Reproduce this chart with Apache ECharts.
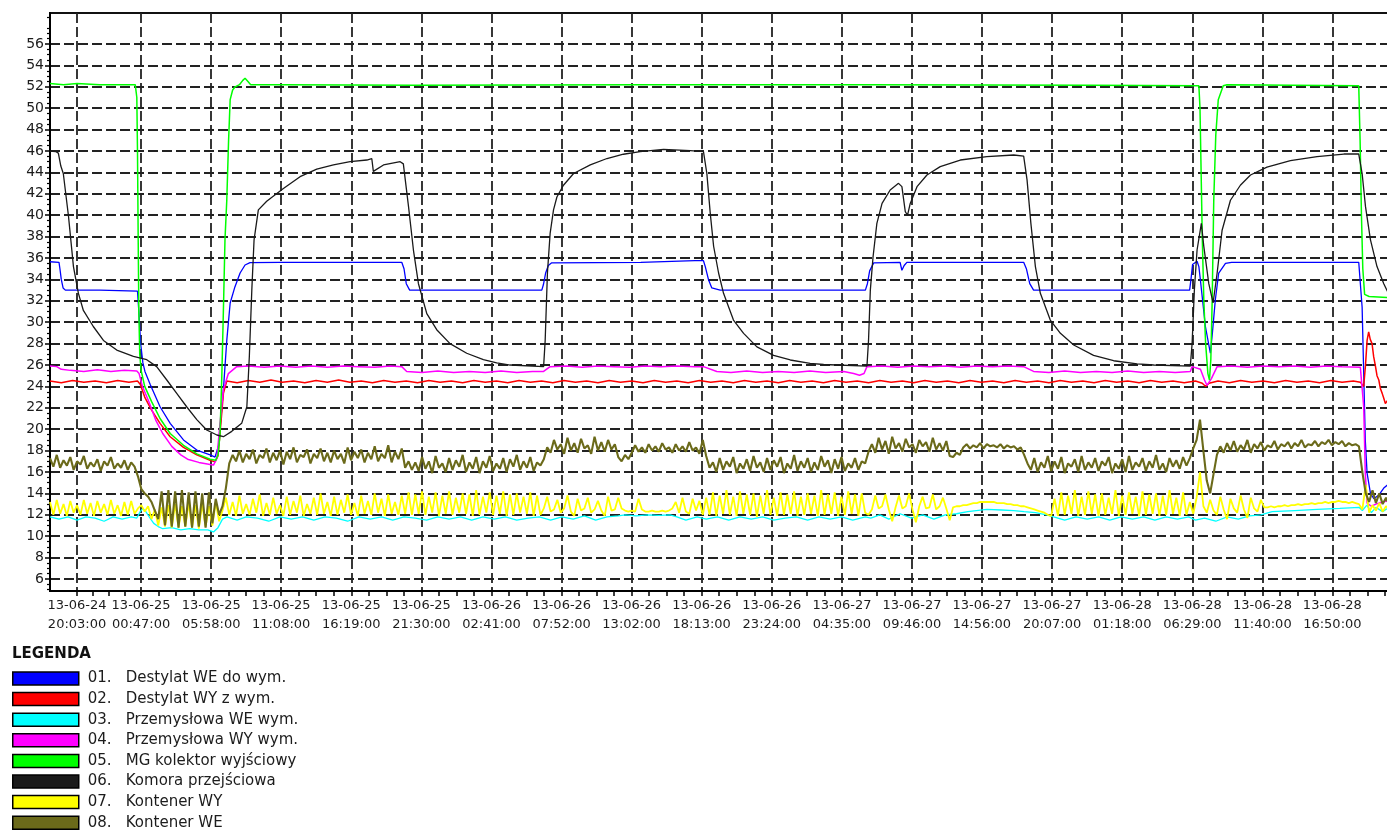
<!DOCTYPE html>
<html>
<head>
<meta charset="utf-8">
<title>Temperatury</title>
<script src="https://cdn.jsdelivr.net/npm/echarts@6/dist/echarts.min.js"></script>
<style>
    html, body { margin: 0; padding: 0; background: #fff; }
    #chart { width: 1387px; height: 837px; }
</style>
</head>
<body>
<div id="chart"></div>
<script>
// x values are minutes counted from 13-06-24 20:03:00
const tickMinutes = [0, 284, 595, 905, 1216, 1527, 1838, 2149, 2459, 2770, 3081, 3392, 3703, 4013, 4324, 4635, 4946, 5257, 5567];
const tickLabels = [
    '13-06-24\n20:03:00', '13-06-25\n00:47:00', '13-06-25\n05:58:00', '13-06-25\n11:08:00',
    '13-06-25\n16:19:00', '13-06-25\n21:30:00', '13-06-26\n02:41:00', '13-06-26\n07:52:00',
    '13-06-26\n13:02:00', '13-06-26\n18:13:00', '13-06-26\n23:24:00', '13-06-27\n04:35:00',
    '13-06-27\n09:46:00', '13-06-27\n14:56:00', '13-06-27\n20:07:00', '13-06-28\n01:18:00',
    '13-06-28\n06:29:00', '13-06-28\n11:40:00', '13-06-28\n16:50:00'
];
const yTicks = [6, 8, 10, 12, 14, 16, 18, 20, 22, 24, 26, 28, 30, 32, 34, 36, 38, 40, 42, 44, 46, 48, 50, 52, 54, 56];

const seriesCodes = ['01.', '02.', '03.', '04.', '05.', '06.', '07.', '08.'];
const seriesNames = [
    'Destylat WE do wym.', 'Destylat WY z wym.', 'Przemysłowa WE wym.', 'Przemysłowa WY wym.',
    'MG kolektor wyjściowy', 'Komora przejściowa', 'Kontener WY', 'Kontener WE'
];
const seriesColors = ['#0000ff', '#ff0000', '#00ffff', '#ff00ff', '#00ff00', '#1a1a1a', '#ffff00', '#6b6a1a'];
const seriesWidths = [1.3, 1.5, 1.3, 1.5, 1.5, 1.3, 1.8, 2.1];

// 01 - [minute, value]
const destylatWE = [
    [-120, 35.65], [-80, 35.6], [-76, 35.0], [-70, 34.0], [-62, 33.2], [-52, 33.0], [100, 33.0], [268, 32.9],
    [274, 31.0], [282, 28.0], [292, 26.2], [301, 25.4], [324, 24.2], [368, 22.1], [413, 20.55], [472, 19.0],
    [531, 18.05], [590, 17.6], [612, 17.4], [628, 18.5], [640, 21.5], [649, 23.7], [664, 28.3], [679, 31.8],
    [700, 33.3], [723, 34.6], [745, 35.35], [767, 35.57], [900, 35.6], [1440, 35.6], [1450, 35.0], [1460, 33.6],
    [1475, 33.0], [2061, 33.0], [2068, 33.5], [2078, 34.6], [2090, 35.3], [2105, 35.55], [2500, 35.6], [2740, 35.75],
    [2778, 35.75], [2786, 35.2], [2800, 34.0], [2815, 33.2], [2852, 33.0], [3496, 33.0], [3505, 33.6], [3515, 34.8],
    [3533, 35.55], [3650, 35.6], [3658, 34.85], [3668, 35.3], [3680, 35.6], [4198, 35.6], [4210, 35.0], [4225, 33.6],
    [4242, 33.0], [4934, 33.0], [4940, 34.0], [4947, 35.4], [4967, 35.7], [4975, 35.2], [4982, 33.9], [5004, 29.6],
    [5026, 27.1], [5035, 29.0], [5048, 32.1], [5063, 34.6], [5093, 35.5], [5120, 35.6], [5684, 35.6], [5699, 31.4],
    [5706, 25.2], [5713, 19.0], [5721, 15.9], [5736, 14.0], [5751, 13.5], [5773, 13.85], [5795, 14.5], [5812, 14.8],
    [5830, 15.0]
];

// 02
const destylatWY = [
    [-120, 24.5], [-70, 24.35], [-20, 24.55], [30, 24.4], [80, 24.5], [130, 24.35], [180, 24.55], [230, 24.4], [268, 24.5],
    [280, 24.2], [300, 23.0], [330, 21.8], [368, 20.55], [413, 19.3], [472, 18.3], [531, 17.6], [590, 17.1], [612, 16.95],
    [625, 17.5], [634, 19.6], [649, 23.35], [664, 24.5], [710, 24.35], [760, 24.55], [810, 24.4], [860, 24.6], [910, 24.4],
    [960, 24.5], [1010, 24.35], [1060, 24.55], [1110, 24.4], [1160, 24.6], [1210, 24.4], [1260, 24.5], [1310, 24.35],
    [1360, 24.55], [1410, 24.4], [1460, 24.5], [1510, 24.35], [1560, 24.55], [1610, 24.4], [1660, 24.5], [1710, 24.35],
    [1760, 24.55], [1810, 24.4], [1860, 24.5], [1910, 24.35], [1960, 24.55], [2010, 24.4], [2060, 24.5], [2110, 24.35],
    [2160, 24.55], [2210, 24.4], [2260, 24.5], [2310, 24.35], [2360, 24.55], [2410, 24.4], [2460, 24.5], [2510, 24.35],
    [2560, 24.55], [2610, 24.4], [2660, 24.5], [2710, 24.35], [2760, 24.55], [2810, 24.4], [2860, 24.5], [2910, 24.35],
    [2960, 24.55], [3010, 24.4], [3060, 24.5], [3110, 24.35], [3160, 24.55], [3210, 24.4], [3260, 24.5], [3310, 24.35],
    [3360, 24.55], [3410, 24.4], [3460, 24.5], [3510, 24.35], [3560, 24.55], [3610, 24.4], [3660, 24.5], [3710, 24.35],
    [3760, 24.55], [3810, 24.4], [3860, 24.5], [3910, 24.35], [3960, 24.55], [4010, 24.4], [4060, 24.5], [4110, 24.35],
    [4160, 24.55], [4210, 24.4], [4260, 24.5], [4310, 24.35], [4360, 24.55], [4410, 24.4], [4460, 24.5], [4510, 24.35],
    [4560, 24.55], [4610, 24.4], [4660, 24.5], [4710, 24.35], [4760, 24.55], [4810, 24.4], [4860, 24.5], [4910, 24.35],
    [4960, 24.5], [4990, 24.3], [5005, 24.0], [5020, 24.3], [5060, 24.5], [5110, 24.35], [5160, 24.55], [5210, 24.4],
    [5260, 24.5], [5310, 24.35], [5360, 24.55], [5410, 24.4], [5460, 24.5], [5510, 24.35], [5560, 24.55], [5610, 24.4],
    [5660, 24.5], [5691, 24.4], [5706, 24.0], [5714, 26.0], [5721, 28.3], [5728, 29.1], [5735, 28.4], [5743, 28.0],
    [5750, 26.8], [5758, 25.9], [5765, 25.0], [5773, 24.6], [5780, 23.8], [5788, 23.35], [5795, 22.9], [5802, 22.4],
    [5812, 22.7], [5830, 22.5]
];

// 03
const przemWE = [
    [-120, 11.8], [-80, 11.6], [-40, 11.8], [0, 11.5], [40, 11.8], [80, 11.7], [120, 11.4], [160, 11.8], [200, 11.6],
    [240, 11.8], [265, 11.7], [280, 12.3], [292, 12.6], [305, 12.3], [320, 11.8], [340, 11.2], [360, 10.9], [380, 10.7],
    [420, 10.8], [460, 10.6], [500, 10.7], [540, 10.6], [580, 10.6], [605, 10.4], [625, 10.8], [645, 11.6], [665, 11.8],
    [710, 11.5], [750, 11.8], [800, 11.7], [850, 11.4], [900, 11.8], [950, 11.6], [1000, 11.8], [1050, 11.5], [1100, 11.8],
    [1150, 11.7], [1200, 11.4], [1250, 11.8], [1300, 11.6], [1350, 11.8], [1400, 11.5], [1450, 11.8], [1500, 11.7],
    [1550, 11.5], [1600, 11.8], [1650, 11.6], [1700, 11.8], [1750, 11.5], [1800, 11.8], [1850, 11.6], [1900, 11.8],
    [1950, 11.5], [2000, 11.7], [2050, 11.8], [2100, 11.5], [2150, 11.8], [2200, 11.6], [2250, 11.9], [2300, 11.5],
    [2350, 11.8], [2400, 11.9], [2430, 12.0], [2480, 11.9], [2530, 12.0], [2580, 11.95], [2630, 12.0], [2660, 11.8],
    [2700, 11.5], [2750, 11.8], [2790, 11.6], [2840, 11.8], [2890, 11.5], [2940, 11.8], [2990, 11.6], [3040, 11.8],
    [3090, 11.5], [3140, 11.7], [3190, 11.8], [3240, 11.5], [3290, 11.8], [3340, 11.6], [3390, 11.8], [3440, 11.5],
    [3496, 11.8], [3520, 11.7], [3560, 12.0], [3600, 11.6], [3650, 12.1], [3700, 11.7], [3750, 12.0], [3800, 11.6],
    [3850, 12.0], [3900, 12.1], [3950, 12.3], [4035, 12.5], [4100, 12.45], [4154, 12.4], [4200, 12.3], [4250, 12.2],
    [4300, 12.0], [4331, 11.8], [4380, 11.5], [4430, 11.8], [4480, 11.6], [4530, 11.8], [4580, 11.5], [4630, 11.8],
    [4680, 11.6], [4730, 11.8], [4780, 11.5], [4830, 11.8], [4880, 11.6], [4930, 11.8], [4960, 11.5], [5000, 11.7],
    [5050, 11.4], [5100, 11.8], [5150, 11.6], [5200, 11.9], [5250, 12.0], [5300, 12.3], [5400, 12.4], [5500, 12.5],
    [5600, 12.6], [5685, 12.7], [5700, 12.4], [5720, 12.9], [5740, 12.2], [5760, 12.7], [5790, 12.3], [5812, 12.6],
    [5830, 12.5]
];

// 04
const przemWY = [
    [-120, 25.9], [-90, 25.85], [-70, 25.6], [-30, 25.5], [30, 25.4], [90, 25.55], [150, 25.4], [210, 25.5], [265, 25.45],
    [275, 25.2], [290, 24.0], [320, 22.5], [350, 20.8], [380, 19.6], [420, 18.4], [460, 17.6], [490, 17.2], [540, 16.9],
    [590, 16.7], [605, 16.65], [620, 17.3], [634, 20.55], [649, 23.7], [671, 25.2], [708, 25.85], [760, 25.9], [830, 25.8],
    [900, 25.9], [970, 25.8], [1040, 25.9], [1110, 25.8], [1180, 25.9], [1250, 25.85], [1320, 25.8], [1390, 25.9],
    [1440, 25.85], [1462, 25.4], [1530, 25.3], [1600, 25.45], [1670, 25.3], [1740, 25.4], [1810, 25.3], [1880, 25.45],
    [1950, 25.3], [2020, 25.4], [2069, 25.4], [2098, 25.85], [2170, 25.9], [2240, 25.8], [2310, 25.9], [2380, 25.85],
    [2450, 25.8], [2520, 25.9], [2590, 25.85], [2660, 25.9], [2740, 25.85], [2778, 25.85], [2837, 25.4], [2900, 25.3],
    [2970, 25.45], [3040, 25.3], [3110, 25.4], [3180, 25.3], [3250, 25.45], [3320, 25.3], [3400, 25.4], [3444, 25.2],
    [3470, 25.05], [3490, 25.2], [3503, 25.85], [3570, 25.9], [3640, 25.8], [3710, 25.9], [3780, 25.85], [3850, 25.9],
    [3920, 25.8], [3990, 25.9], [4060, 25.85], [4130, 25.9], [4198, 25.85], [4242, 25.4], [4310, 25.3], [4380, 25.45],
    [4450, 25.3], [4520, 25.4], [4590, 25.3], [4660, 25.45], [4730, 25.3], [4800, 25.4], [4870, 25.3], [4937, 25.4],
    [4945, 25.85], [4982, 25.6], [5000, 24.6], [5011, 24.1], [5030, 24.7], [5056, 25.85], [5120, 25.9], [5190, 25.8],
    [5260, 25.9], [5330, 25.85], [5400, 25.9], [5470, 25.8], [5540, 25.9], [5610, 25.85], [5691, 25.8], [5706, 22.1],
    [5713, 15.9], [5721, 13.1], [5740, 12.8], [5760, 13.0], [5790, 13.2], [5812, 13.3], [5830, 13.2]
];

// 05
const kolektor = [
    [-120, 52.3], [-60, 52.2], [0, 52.3], [100, 52.2], [200, 52.2], [258, 52.2], [265, 51.0], [268, 46.0], [271, 38.0],
    [274, 31.0], [278, 27.0], [284, 25.5], [300, 24.0], [330, 22.6], [368, 21.0], [413, 19.6], [472, 18.5], [531, 17.7],
    [590, 17.2], [615, 17.1], [625, 17.6], [634, 19.5], [642, 25.0], [650, 32.0], [656, 37.7], [664, 41.4], [672, 47.0],
    [679, 50.8], [690, 51.7], [701, 52.0], [720, 52.2], [735, 52.6], [745, 52.8], [758, 52.5], [770, 52.2], [900, 52.2],
    [1500, 52.15], [2500, 52.2], [3500, 52.2], [4500, 52.15], [4975, 52.1], [4980, 50.0], [4985, 44.0], [4990, 38.0],
    [4997, 32.0], [5005, 28.0], [5015, 25.2], [5022, 24.6], [5028, 26.5], [5034, 32.0], [5041, 41.4], [5050, 47.5],
    [5061, 50.8], [5083, 52.1], [5100, 52.2], [5684, 52.1], [5690, 47.0], [5696, 40.0], [5702, 35.0], [5710, 32.6],
    [5730, 32.4], [5830, 32.3]
];

// 06
const komora = [
    [-120, 46.0], [-95, 45.95], [-83, 45.8], [-72, 44.6], [-61, 43.9], [-38, 39.9], [-16, 35.2], [6, 32.7], [28, 31.1],
    [72, 29.6], [117, 28.3], [176, 27.4], [250, 26.8], [309, 26.5], [353, 25.85], [398, 24.6], [442, 23.35], [486, 22.1],
    [531, 20.9], [575, 19.93], [620, 19.46], [649, 19.3], [686, 19.8], [730, 20.55], [753, 22.1], [764, 26.8], [775, 33.0],
    [785, 37.7], [804, 40.5], [841, 41.3], [915, 42.5], [989, 43.6], [1063, 44.3], [1137, 44.7], [1211, 45.0], [1285, 45.16],
    [1307, 45.3], [1314, 44.1], [1322, 44.07], [1359, 44.7], [1433, 45.0], [1447, 44.8], [1470, 40.8], [1492, 36.7],
    [1514, 33.6], [1551, 30.8], [1595, 29.3], [1654, 28.0], [1728, 27.1], [1802, 26.5], [1861, 26.2], [1921, 26.0],
    [2069, 25.85], [2076, 28.3], [2086, 34.6], [2098, 38.3], [2113, 40.5], [2128, 41.7], [2157, 42.8], [2202, 43.9],
    [2276, 44.7], [2350, 45.3], [2423, 45.7], [2497, 45.94], [2601, 46.16], [2719, 46.03], [2778, 45.94], [2793, 43.9],
    [2808, 40.2], [2823, 37.1], [2845, 34.6], [2867, 32.7], [2911, 30.2], [2956, 28.96], [3015, 27.7], [3089, 26.9],
    [3163, 26.47], [3251, 26.16], [3311, 26.05], [3503, 25.9], [3510, 28.3], [3518, 33.0], [3530, 36.1], [3547, 39.24],
    [3570, 41.1], [3606, 42.36], [3643, 42.98], [3658, 42.67], [3673, 40.33], [3683, 40.0], [3695, 41.1], [3725, 42.67],
    [3769, 43.76], [3828, 44.54], [3917, 45.16], [4035, 45.47], [4154, 45.63], [4198, 45.53], [4213, 43.3], [4230, 39.24],
    [4250, 35.2], [4272, 32.7], [4316, 30.2], [4361, 28.96], [4420, 27.87], [4508, 26.9], [4597, 26.4], [4701, 26.1],
    [4775, 26.0], [4937, 25.9], [4945, 28.0], [4955, 33.0], [4967, 36.75], [4986, 39.24], [4997, 37.06], [5019, 33.6],
    [5038, 31.8], [5056, 34.6], [5078, 38.6], [5115, 41.4], [5159, 42.8], [5204, 43.76], [5277, 44.5], [5381, 45.1],
    [5499, 45.47], [5618, 45.72], [5684, 45.72], [5699, 43.9], [5714, 40.8], [5736, 37.7], [5765, 35.2], [5795, 33.6],
    [5811, 32.9], [5830, 32.3]
];

// 07 and 08 are sampled every 15 minutes starting at minute -120
const sampleStart = -120;
const sampleStep = 15;

const kontenerWY = [
    13.2, 12.0, 13.4, 12.1, 13.0, 11.9, 13.3, 12.2, 12.9, 12.0, 13.4, 12.1, 13.1, 11.9, 13.3, 12.2, 13.0, 12.0, 13.4, 12.1,
    12.9, 11.9, 13.2, 12.0, 13.3, 12.1,
    12.6, 12.9, 12.3, 12.8, 11.6, 12.5, 11.0, 12.7, 10.9, 12.9, 10.8, 13.0, 10.8, 12.8, 10.9, 13.1, 10.8, 12.9, 10.7, 13.0,
    10.9, 12.8, 11.0, 13.2, 11.4,
    12.4, 13.6, 12.0, 13.2, 11.9, 13.8, 12.1, 13.0, 12.0, 13.5, 12.2, 13.9, 11.9, 13.1, 12.0, 13.6, 12.1, 12.9, 11.9, 13.7,
    12.0, 13.3, 12.2, 13.8, 11.9, 13.0, 12.1, 13.6, 12.0, 14.0, 12.1, 13.2, 11.9, 13.7, 12.0, 13.4, 12.2, 13.9, 12.0, 13.1,
    11.9, 13.8, 12.1, 13.3, 12.0, 14.0, 12.2, 13.5, 11.9, 13.9, 12.1, 13.2, 12.0, 13.8, 12.1, 14.1, 12.0,
    13.9, 12.1, 14.2, 12.0, 13.7, 12.2, 14.1, 11.9, 13.8, 12.1, 14.2, 12.0, 13.6, 12.2, 14.0, 12.1, 13.9, 11.9, 14.3, 12.0,
    13.7, 12.2, 14.1, 12.0, 13.8, 12.1, 14.2, 11.9, 13.9, 12.0, 14.0, 12.2, 13.7, 12.1, 14.1, 11.9, 13.8, 12.0,
    12.6, 13.7, 12.3, 12.5, 13.4, 12.2, 12.6, 13.8, 12.3, 11.9, 13.5, 12.4, 12.6, 13.6, 12.2, 12.5, 13.3, 12.4, 11.9, 13.7,
    12.4, 12.5,
    13.6, 12.6, 12.4, 12.3, 12.4, 12.3, 13.5, 12.5, 12.3, 12.3, 12.4, 12.3, 12.3, 12.4, 12.3, 12.4, 12.6,
    13.2, 12.2, 13.6, 12.3, 12.1, 13.5, 12.4, 13.3, 12.0,
    13.6, 12.0, 14.1, 11.9, 13.8, 12.1, 14.3, 12.0, 13.7, 11.9, 14.2, 12.1, 13.9, 12.0, 14.0, 11.8, 13.8, 12.1, 14.3, 12.0,
    13.6, 11.9, 14.1, 12.0, 13.9, 12.1, 14.2, 11.9, 13.7, 12.0, 14.0, 12.1, 13.8, 11.9, 14.3, 12.0, 13.9, 12.1, 14.1, 11.9,
    13.7, 12.0, 14.2, 12.1, 13.9, 11.9, 14.0,
    12.2, 12.0, 12.5, 13.8, 12.6, 12.8, 13.9, 12.5, 11.4, 12.7, 13.8, 12.6, 12.8, 14.0, 12.5, 11.3, 12.8, 13.7, 12.6, 12.7,
    13.9, 12.5, 12.8, 13.6, 12.6, 11.5, 12.7,
    12.8, 12.8, 12.9, 12.9, 13.0, 13.1, 13.1, 13.2, 13.2, 13.2, 13.2, 13.2, 13.1, 13.1, 13.1, 13.0, 13.0, 12.9, 12.9, 12.8,
    12.8, 12.7, 12.6, 12.5, 12.4, 12.3, 12.2, 12.0, 11.9,
    13.5, 11.9, 14.1, 12.0, 13.8, 12.1, 14.3, 11.9, 13.7, 12.0, 14.2, 12.1, 13.9, 11.9, 14.0, 12.0, 13.6, 12.1, 14.3, 11.9,
    13.8, 12.0, 14.1, 12.1, 13.7, 11.9, 14.2, 12.0, 13.9, 12.1, 14.0, 11.9, 13.8, 12.0, 14.3, 12.1, 13.6, 11.9, 14.1, 12.0,
    13.2, 12.1, 13.6, 16.0, 12.8, 12.2, 13.4, 12.4, 12.0, 13.7, 12.5, 11.6, 13.5, 12.6, 12.2, 13.8, 12.5, 11.7, 13.6, 12.6,
    12.3, 13.4,
    12.7, 12.7, 12.8, 12.7, 12.8, 12.8, 12.9, 12.8, 12.9, 12.9, 13.0, 12.9, 13.0, 13.0, 13.1, 13.0, 13.1, 13.1, 13.2, 13.1,
    13.2, 13.2, 13.3, 13.2, 13.2, 13.1, 13.2, 13.1, 13.0,
    12.5, 14.8, 12.2, 12.9, 12.4, 13.1, 12.3, 12.8, 12.5
];

const kontenerWE = [
    17.3, 16.5, 17.6, 16.4, 17.1, 16.6, 17.4, 16.2, 17.0, 16.7, 17.5, 16.3, 16.9, 16.5, 17.2, 16.1, 17.0, 16.6, 17.4, 16.3,
    16.8, 16.4, 17.1, 16.2, 16.9, 16.5,
    15.6, 14.4, 14.0, 13.7, 13.2, 12.4, 11.6, 14.2, 11.0, 14.3, 10.9, 14.2, 10.8, 14.3, 10.9, 14.1, 10.8, 14.2, 10.9, 14.0,
    10.8, 14.1, 11.2, 13.5, 12.0,
    12.8, 14.5, 16.8, 17.6, 17.0, 18.0, 16.9, 17.7, 17.2, 18.1, 16.8, 17.6, 17.3, 18.2, 16.9, 17.8, 17.1, 18.0, 16.7, 17.9,
    17.2, 18.3, 16.9, 17.6, 17.4, 18.1, 16.8, 17.7, 17.3, 18.2, 17.0, 17.8, 16.9, 18.0, 17.2, 17.7, 16.8, 18.3, 17.1, 17.9,
    17.3, 18.1, 16.9, 17.8, 17.2, 18.4, 17.0, 17.7, 17.3, 18.5, 16.9, 17.9, 17.2, 18.2, 16.4, 17.0, 16.2,
    16.9, 16.1, 17.4, 16.3, 17.0, 15.9, 17.5, 16.4, 16.8, 16.0, 17.3, 16.2, 17.1, 16.5, 17.6, 16.0, 16.9, 16.3, 17.4, 15.9,
    17.0, 16.4, 17.5, 16.1, 16.8, 16.3, 17.3, 16.0, 17.2, 16.5, 17.6, 16.2, 17.0, 16.4, 17.4, 16.1, 16.9, 16.6,
    17.2, 18.3, 17.8, 19.0, 18.1, 18.6, 17.7, 19.2, 18.0, 18.7, 17.8, 19.1, 18.2, 18.5, 17.7, 19.3, 18.0, 18.8, 17.9, 19.0,
    18.1, 18.6, 17.4, 17.0, 17.6, 17.2, 17.8, 18.5, 17.9, 18.3, 17.8, 18.6, 18.0, 18.4, 17.9, 18.7, 18.1, 18.3, 17.8, 18.6,
    18.0, 18.4, 17.9, 18.8, 18.0, 18.3, 17.7, 19.0,
    17.5, 16.4, 16.9, 16.0, 17.3, 16.2, 17.0, 16.5, 17.4, 15.9, 16.8, 16.3, 17.2, 16.1, 17.5, 16.4, 16.9, 16.0, 17.3, 16.2,
    17.1, 16.5, 17.4, 15.9, 16.8, 16.3, 17.6, 16.1, 17.0, 16.4, 17.3, 16.0, 16.9, 16.2, 17.5, 16.5, 17.1, 15.9, 17.2, 16.3,
    17.4, 16.1, 16.8, 16.4, 17.3, 16.2, 17.0,
    16.8, 17.9, 18.6, 17.8, 19.2, 18.1, 18.9, 17.7, 19.3, 18.2, 18.7, 17.9, 19.1, 18.3, 18.6, 17.8, 19.0, 18.4, 18.8, 17.9,
    19.2, 18.1, 18.7, 18.0, 18.9, 17.5, 17.4, 17.8, 17.6, 18.3, 18.6, 18.2, 18.5, 18.3, 18.7, 18.2, 18.6, 18.4, 18.5, 18.3,
    18.6, 18.2, 18.5, 18.3, 18.4, 18.1, 18.3,
    17.6, 16.8, 16.2, 17.3, 16.0, 16.9, 16.4, 17.5, 16.1, 17.0, 16.3, 17.4, 15.9, 16.8, 16.5, 17.2, 16.0, 17.5, 16.2, 16.9,
    16.4, 17.3, 16.1, 17.0, 16.6, 17.4, 15.9, 16.8, 16.3, 17.2, 16.0, 17.5, 16.2, 16.9, 16.5, 17.3, 16.1, 17.0, 16.4, 17.6,
    16.2, 16.8, 16.0, 17.3, 16.5, 17.1, 16.3, 17.4, 16.6,
    17.3, 18.2, 19.0, 20.9, 18.0, 15.2, 14.0, 15.8, 17.6, 18.4,
    17.8, 18.7, 18.0, 18.9, 17.9, 18.5, 18.1, 19.0, 17.8, 18.6, 18.2, 18.8, 18.0, 18.5, 18.3, 18.9, 18.1, 18.6, 18.4, 18.8,
    18.2, 18.7, 18.4, 19.0, 18.3, 18.6, 18.5, 18.9, 18.4, 18.8, 18.6, 19.0, 18.5, 18.8, 18.6, 18.9, 18.4, 18.7, 18.5, 18.6,
    18.4,
    16.0, 14.0, 13.2, 14.3, 13.1, 14.0, 13.0, 13.6, 12.9
];

const toPairs = values => values.map((v, i) => [sampleStart + i * sampleStep, v]);

const seriesData = [destylatWE, destylatWY, przemWE, przemWY, kolektor, komora, toPairs(kontenerWY), toPairs(kontenerWE)];

// minor ticks: quarters between labelled ticks, halves on the value axis
const xMinor = [];
for (let i = 0; i < tickMinutes.length - 1; i++) {
    const a = tickMinutes[i], b = tickMinutes[i + 1];
    for (let k = 1; k < 4; k++) xMinor.push(a + (b - a) * k / 4);
}
for (let k = 1; k < 4; k++) xMinor.push(5567 + 77.6 * k);
const yMinor = [];
for (let v = 5; v <= 58.5; v += 0.5) {
    if (v % 2 !== 0) yMinor.push(v);
}

const textColor = '#1c1c1c';
const font = 'DejaVu Sans';

let myChart = echarts.init(document.getElementById('chart'), null, {renderer: 'canvas'});

let option = {
    animation: false,
    backgroundColor: '#fff',
    title: {
        text: 'LEGENDA',
        left: 12,
        top: 647,
        padding: 0,
        textStyle: {fontFamily: font, fontSize: 15, fontWeight: 'bold', color: '#111'}
    },
    legend: {
        orient: 'vertical',
        left: 12,
        top: 671,
        itemWidth: 66,
        itemHeight: 13,
        itemGap: 5.6,
        icon: 'rect',
        selectedMode: false,
        padding: 0,
        itemStyle: {borderColor: '#000', borderWidth: 1.5},
        data: seriesNames,
        formatter: name => '{n|' + seriesCodes[seriesNames.indexOf(name)] + '}{t|' + name + '}',
        textStyle: {
            rich: {
                n: {fontFamily: font, fontSize: 15, color: textColor, width: 38, lineHeight: 16, padding: [0, 0, 0, 4]},
                t: {fontFamily: font, fontSize: 15, color: textColor, lineHeight: 16}
            }
        }
    },
    grid: {
        left: 50,
        top: 13,
        width: 1380,
        height: 578,
        show: true,
        borderColor: '#111',
        borderWidth: 2,
        containLabel: false,
        outerBoundsMode: 'none'
    },
    xAxis: [
        {
            type: 'value',
            min: -120,
            max: 6000,
            position: 'bottom',
            axisLine: {show: true, onZero: false, lineStyle: {color: '#000', width: 2}},
            axisTick: {show: true, customValues: tickMinutes, length: 5, lineStyle: {color: '#000', width: 1.5}},
            axisLabel: {
                customValues: tickMinutes,
                margin: 5,
                fontFamily: font,
                fontSize: 13,
                lineHeight: 19,
                color: textColor,
                formatter: value => tickLabels[tickMinutes.indexOf(value)]
            },
            splitLine: {show: true, lineStyle: {type: [10, 4], color: '#222', width: 1.8}}
        },
        {
            type: 'value',
            min: -120,
            max: 6000,
            position: 'bottom',
            axisLine: {show: false},
            axisTick: {show: true, customValues: xMinor, length: 5, lineStyle: {color: '#000', width: 1.5}},
            axisLabel: {show: false},
            splitLine: {show: false}
        }
    ],
    yAxis: [
        {
            type: 'value',
            min: 4.88,
            max: 58.9,
            position: 'left',
            axisLine: {show: true, onZero: false, lineStyle: {color: '#000', width: 2}},
            axisTick: {show: true, customValues: yTicks, length: 5, lineStyle: {color: '#000', width: 1.5}},
            axisLabel: {customValues: yTicks, margin: 6, fontFamily: font, fontSize: 14, color: textColor},
            splitLine: {show: true, lineStyle: {type: [10, 4], color: '#222', width: 1.8}}
        },
        {
            type: 'value',
            min: 4.88,
            max: 58.9,
            position: 'left',
            axisLine: {show: false, onZero: false},
            axisTick: {show: true, customValues: yMinor, length: 3, lineStyle: {color: '#000', width: 1.2}},
            axisLabel: {show: false},
            splitLine: {show: false}
        }
    ],
    series: seriesNames.map((name, i) => ({
        name: name,
        type: 'line',
        xAxisIndex: 0,
        yAxisIndex: 0,
        showSymbol: false,
        symbol: 'none',
        color: seriesColors[i],
        lineStyle: {color: seriesColors[i], width: seriesWidths[i]},
        data: seriesData[i],
        silent: true
    }))
};

myChart.setOption(option);
</script>
</body>
</html>
